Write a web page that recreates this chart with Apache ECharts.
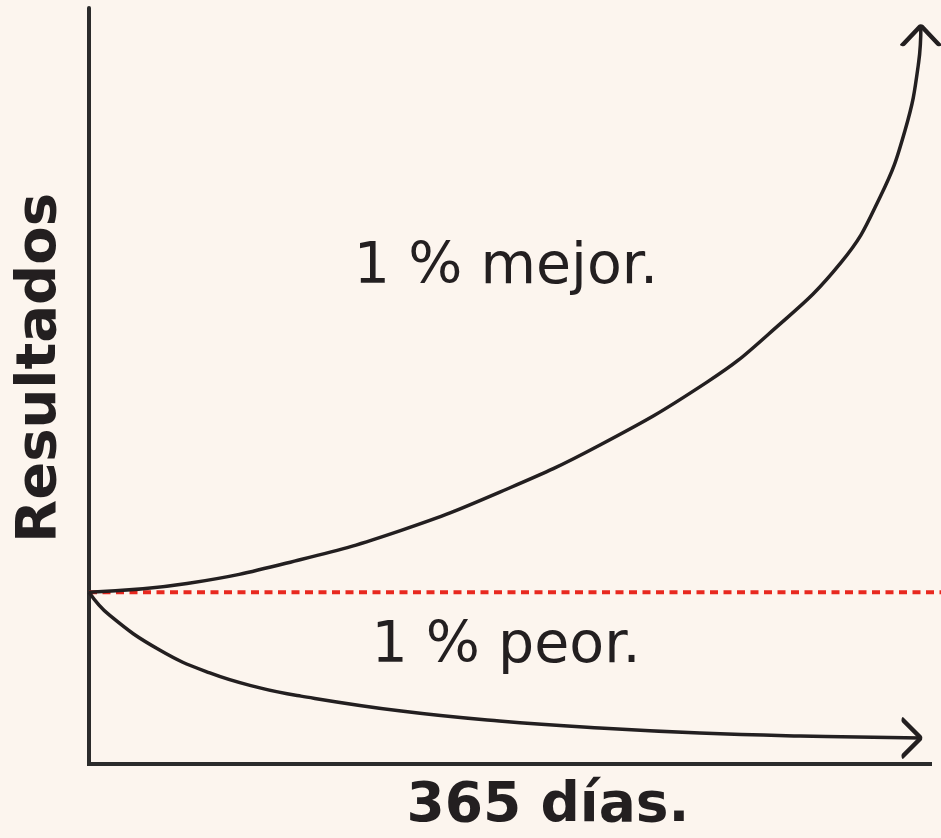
<!DOCTYPE html>
<html>
<head>
<meta charset="utf-8">
<title>1 % mejor / 1 % peor</title>
<script src="https://cdn.jsdelivr.net/npm/echarts@6/dist/echarts.min.js"></script>
<style>
  html, body { margin: 0; padding: 0; background: #fcf5ee; }
  #chart { width: 941px; height: 838px; }
</style>
</head>
<body>
<div id="chart"></div>
<script>
// datos (eje x en días, eje y en resultados relativos, 1 = punto de partida)
const upperDays = [0, 43, 93, 137, 180, 224, 271, 298, 330, 347, 358, 364, 365]
const upperValues = [1.0, 1.05, 1.19, 1.36, 1.581, 1.855, 2.221, 2.5, 2.919, 3.297, 3.686, 4.081, 4.297]
const lowerDays = [0, 9, 31, 53, 75, 93, 137, 180, 224, 268, 312, 365]
const lowerValues = [1.0, 0.866, 0.663, 0.53, 0.443, 0.395, 0.308, 0.25, 0.209, 0.18, 0.163, 0.151]
const baselineDays = [0, 374] // la línea roja llega hasta el borde
const baselineValue = 1

const labels = {
  yName: 'Resultados',
  xName: '365 días.',
  upper: '1 % mejor.',
  lower: '1 % peor.'
}

const ink = '#231f20'
const font = '"DejaVu Sans", sans-serif'

function pairs(xs, ys) {
  return xs.map((x, i) => [x, ys[i]])
}

const hidden = {
  axisLine: { show: false },
  axisTick: { show: false },
  axisLabel: { show: false },
  splitLine: { show: false }
}

const arrowStyle = {
  color: 'rgba(0,0,0,0)',
  opacity: 1,
  borderColor: ink,
  borderWidth: 4,
  borderCap: 'round',
  borderJoin: 'round'
}

const chart = echarts.init(document.getElementById('chart'), null, { renderer: 'canvas' })

chart.setOption({
  backgroundColor: '#fcf5ee',
  animation: false,
  grid: [
    { left: 89, right: 11, top: 8, bottom: 74 },
    // rejilla auxiliar para que la línea roja llegue al borde derecho
    { left: 89, right: 0, top: 8, bottom: 74 }
  ],
  xAxis: [
    {
      type: 'value',
      min: 0,
      max: 369,
      axisLine: { lineStyle: { color: '#2b2b2b', width: 4, cap: 'square' } },
      axisTick: { show: false },
      axisLabel: { show: false },
      splitLine: { show: false }
    },
    Object.assign({ type: 'value', gridIndex: 1, min: 0, max: 374 }, hidden)
  ],
  yAxis: [
    {
      type: 'value',
      min: 0,
      max: 4.4,
      axisLine: { show: true, lineStyle: { color: '#2b2b2b', width: 4 } },
      axisTick: { show: false },
      axisLabel: { show: false },
      splitLine: { show: false }
    },
    Object.assign({ type: 'value', gridIndex: 1, min: 0, max: 4.4 }, hidden)
  ],
  series: [
    {
      // línea de referencia punteada
      type: 'line',
      xAxisIndex: 1,
      yAxisIndex: 1,
      data: baselineDays.map(d => [d, baselineValue]),
      showSymbol: false,
      silent: true,
      z: 1,
      lineStyle: { color: '#e8281f', width: 4, type: [8, 5.5] }
    },
    {
      name: labels.upper,
      type: 'line',
      data: pairs(upperDays, upperValues),
      smooth: 0.45,
      showSymbol: false,
      silent: true,
      clip: false,
      z: 3,
      lineStyle: { color: ink, width: 3.5 }
    },
    {
      name: labels.lower,
      type: 'line',
      data: pairs(lowerDays, lowerValues),
      smooth: 0.45,
      showSymbol: false,
      silent: true,
      clip: false,
      z: 3,
      lineStyle: { color: ink, width: 3.5 }
    },
    {
      // punta de flecha arriba
      type: 'scatter',
      data: [[upperDays[upperDays.length - 1], upperValues[upperValues.length - 1]]],
      symbol: 'path://M0,19 L18,0 L36,19',
      symbolSize: [36, 19],
      symbolOffset: [0, '50%'],
      silent: true,
      clip: false,
      z: 4,
      itemStyle: arrowStyle
    },
    {
      // punta de flecha derecha
      type: 'scatter',
      data: [[lowerDays[lowerDays.length - 1], lowerValues[lowerValues.length - 1]]],
      symbol: 'path://M0,0 L18,18 L0,36',
      symbolSize: [18, 36],
      symbolOffset: ['-50%', 0],
      silent: true,
      clip: false,
      z: 4,
      itemStyle: arrowStyle
    }
  ],
  graphic: [
    {
      type: 'text',
      x: 40,
      y: 368,
      rotation: Math.PI / 2,
      style: {
        text: labels.yName,
        fill: ink,
        font: 'bold 56px ' + font,
        align: 'center',
        verticalAlign: 'middle'
      }
    },
    {
      type: 'text',
      x: 548,
      y: 807,
      style: {
        text: labels.xName,
        fill: ink,
        font: 'bold 55px ' + font,
        align: 'center',
        verticalAlign: 'middle'
      }
    },
    {
      type: 'text',
      x: 506,
      y: 268,
      style: {
        text: labels.upper,
        fill: ink,
        font: '57px ' + font,
        align: 'center',
        verticalAlign: 'middle'
      }
    },
    {
      type: 'text',
      x: 506,
      y: 647,
      style: {
        text: labels.lower,
        fill: ink,
        font: '57px ' + font,
        align: 'center',
        verticalAlign: 'middle'
      }
    }
  ]
})
</script>
</body>
</html>
